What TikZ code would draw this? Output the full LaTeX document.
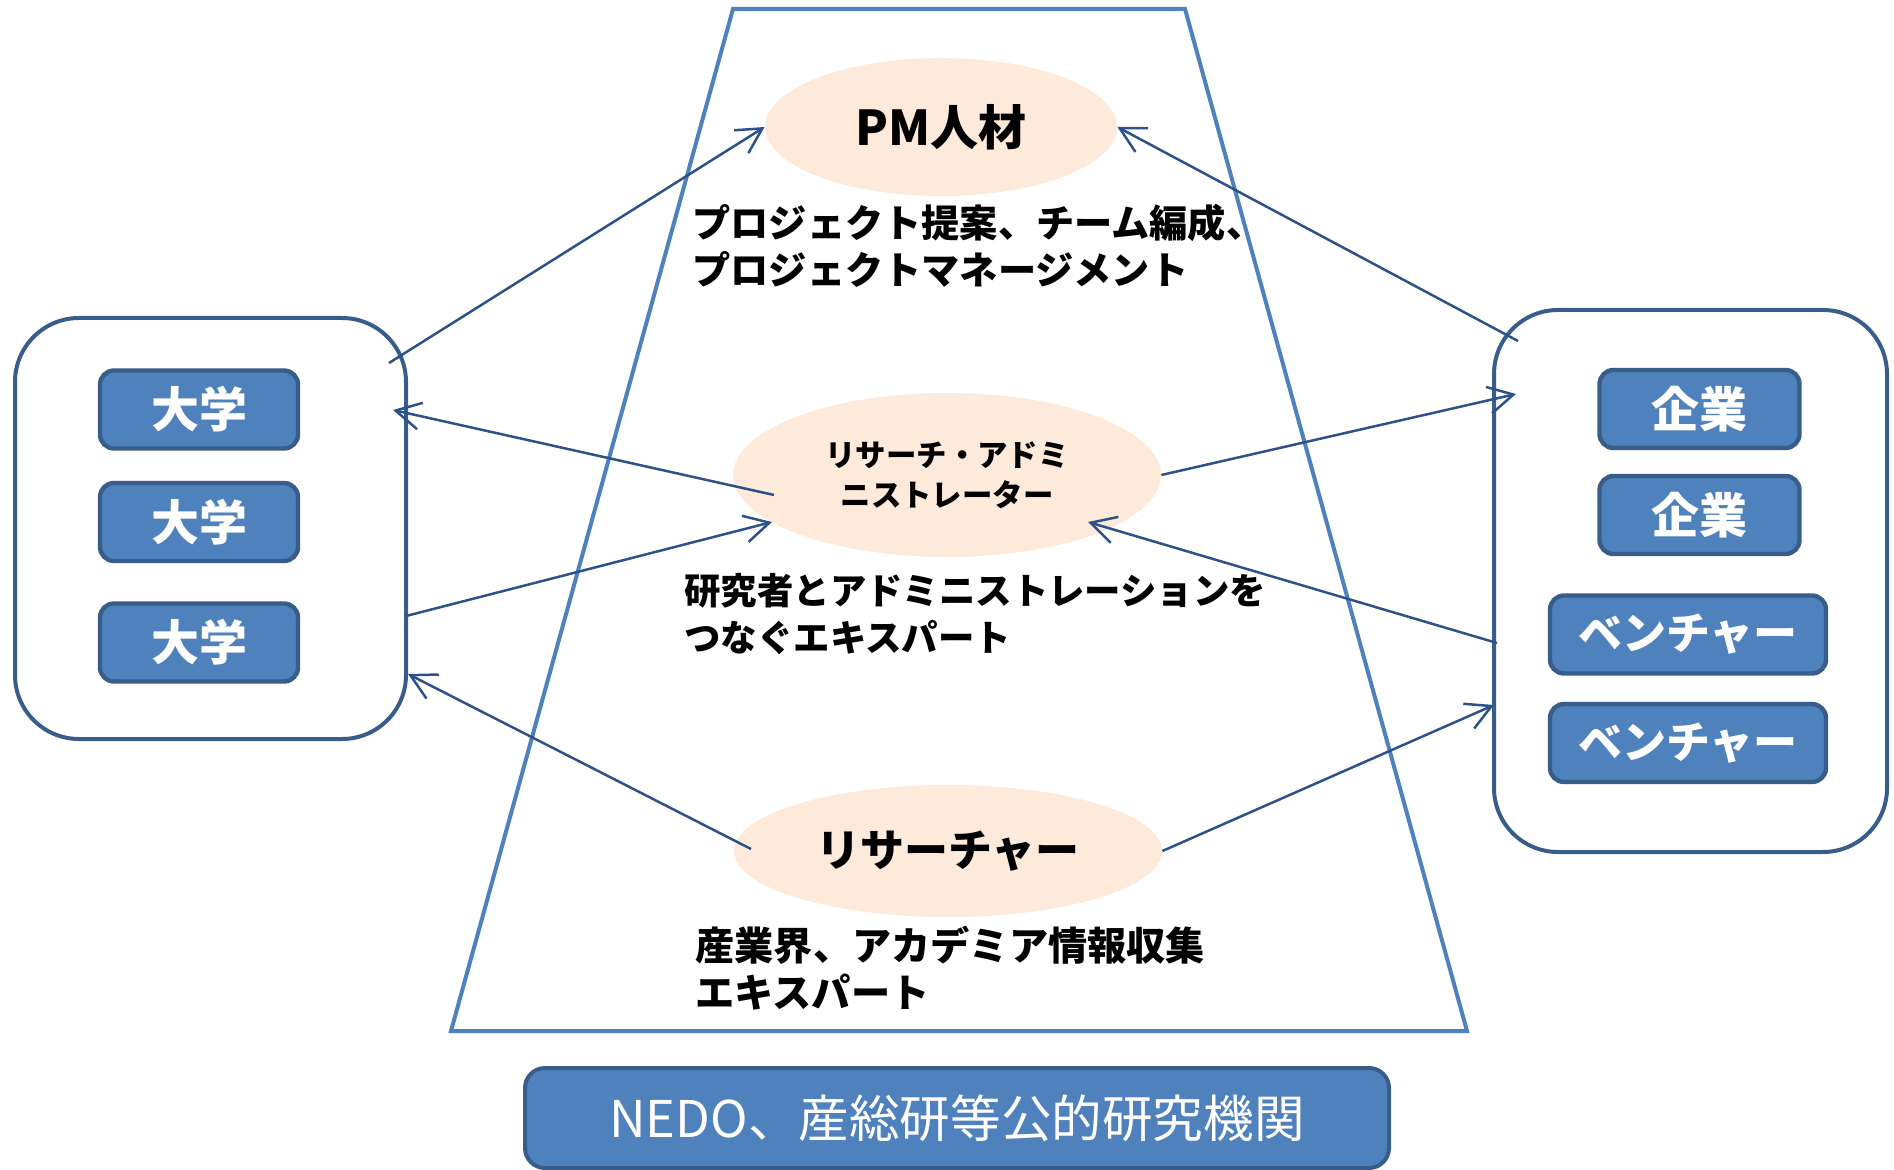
\documentclass[tikz,border=0pt]{standalone}
\usepackage{fontspec}
\setmainfont{Noto Sans CJK JP}
\usepackage{tikz}
\usetikzlibrary{arrows.meta,shapes,positioning}
\definecolor{boxblue}{HTML}{4F81BD}
\definecolor{boxedge}{HTML}{385D8A}
\definecolor{peach}{HTML}{FDEADA}
\definecolor{linkblue}{HTML}{2C5289}

\begin{document}
\begin{tikzpicture}[x=0.5pt,y=-0.5pt,
        group/.style={draw=boxedge,line width=2pt,rounded corners=32pt,fill=white},
        member/.style={draw=boxedge,line width=2.2pt,fill=boxblue,rounded corners=7pt,text=white,inner sep=0pt,minimum height=39pt,font=\bfseries\fontsize{24}{28}\selectfont},
        role/.style={ellipse,fill=peach,inner sep=0pt,align=center},
        note/.style={anchor=west,align=left,inner sep=0pt},
        link/.style={draw=linkblue,line width=1.25pt,-{Straight Barb[length=12.5pt,width=13.5pt]}}]
\useasboundingbox (0,0) rectangle (1894,1170);

% trapezoid
\draw[boxblue,line width=2pt] (733,9) -- (1185,9) -- (1467,1031) -- (451,1031) -- cycle;

\node[group,minimum width=195.5pt,minimum height=210.5pt] (univ) at (210.5,528.5) {};
\node[group,minimum width=196.5pt,minimum height=271pt] (comp) at (1690.5,581) {};

\node[member,minimum width=99pt] (univ1) at (199,409.5) {大学};
\node[member,minimum width=99pt] (univ2) at (199,522) {大学};
\node[member,minimum width=99pt] (univ3) at (199,642.5) {大学};

\node[member,minimum width=100pt] (comp1) at (1699.5,409) {企業};
\node[member,minimum width=100pt] (comp2) at (1699.5,515) {企業};
\node[member,minimum width=138pt,font=\bfseries\fontsize{22}{26}\selectfont] (vent1) at (1688,634.5) {ベンチャー};
\node[member,minimum width=138pt,font=\bfseries\fontsize{22}{26}\selectfont] (vent2) at (1688,743) {ベンチャー};

\node[role,minimum width=176pt,minimum height=69pt,font=\bfseries\fontsize{24}{28}\selectfont] (pm) at (941,127) {PM人材};
\node[role,minimum width=214pt,minimum height=82pt,font=\bfseries\fontsize{15.2}{20}\selectfont] (adm) at (947,475) {リサーチ・アドミ\\ニストレーター};
\node[role,minimum width=214pt,minimum height=66pt,font=\bfseries\fontsize{22}{26}\selectfont] (res) at (948,851) {リサーチャー};

\node[note,font=\bfseries\fontsize{19.1}{23.5}\selectfont] (pmnote) at (692,246) {プロジェクト提案、チーム編成、\\プロジェクトマネージメント};
\node[note,font=\bfseries\fontsize{18.2}{23.5}\selectfont] (admnote) at (684,614) {研究者とアドミニストレーションを\\つなぐエキスパート};
\node[note,font=\bfseries\fontsize{19.6}{23.5}\selectfont] (resnote) at (695,968) {産業界、アカデミア情報収集\\エキスパート};

\node[draw=boxedge,line width=2pt,fill=boxblue,rounded corners=10pt,minimum width=432pt,minimum height=50pt,text=white,font=\fontsize{25.3}{30}\selectfont] (nedo) at (957,1118) {NEDO、産総研等公的研究機関};

% arrow ends
\coordinate (univA) at (389,363);
\coordinate (univB) at (393,410);
\coordinate (univC) at (406,616);
\coordinate (univD) at (408,674);
\coordinate (compA) at (1518,341);
\coordinate (compB) at (1516,394);
\coordinate (compC) at (1497,643);
\coordinate (compD) at (1494,705);
\coordinate (admL) at (774,495);
\coordinate (admT) at (772,522);
\coordinate (admR) at (1088,522);
\coordinate (resL) at (751,849);

\draw[link] (univA) -- (pm.west);
\draw[link] (compA) -- (pm.east);
\draw[link] (admL) -- (univB);
\draw[link] (univC) -- (admT);
\draw[link] (adm.east) -- (compB);
\draw[link] (compC) -- (admR);
\draw[link] (resL) -- (univD);
\draw[link] (res.east) -- (compD);
\end{tikzpicture}
\end{document}
